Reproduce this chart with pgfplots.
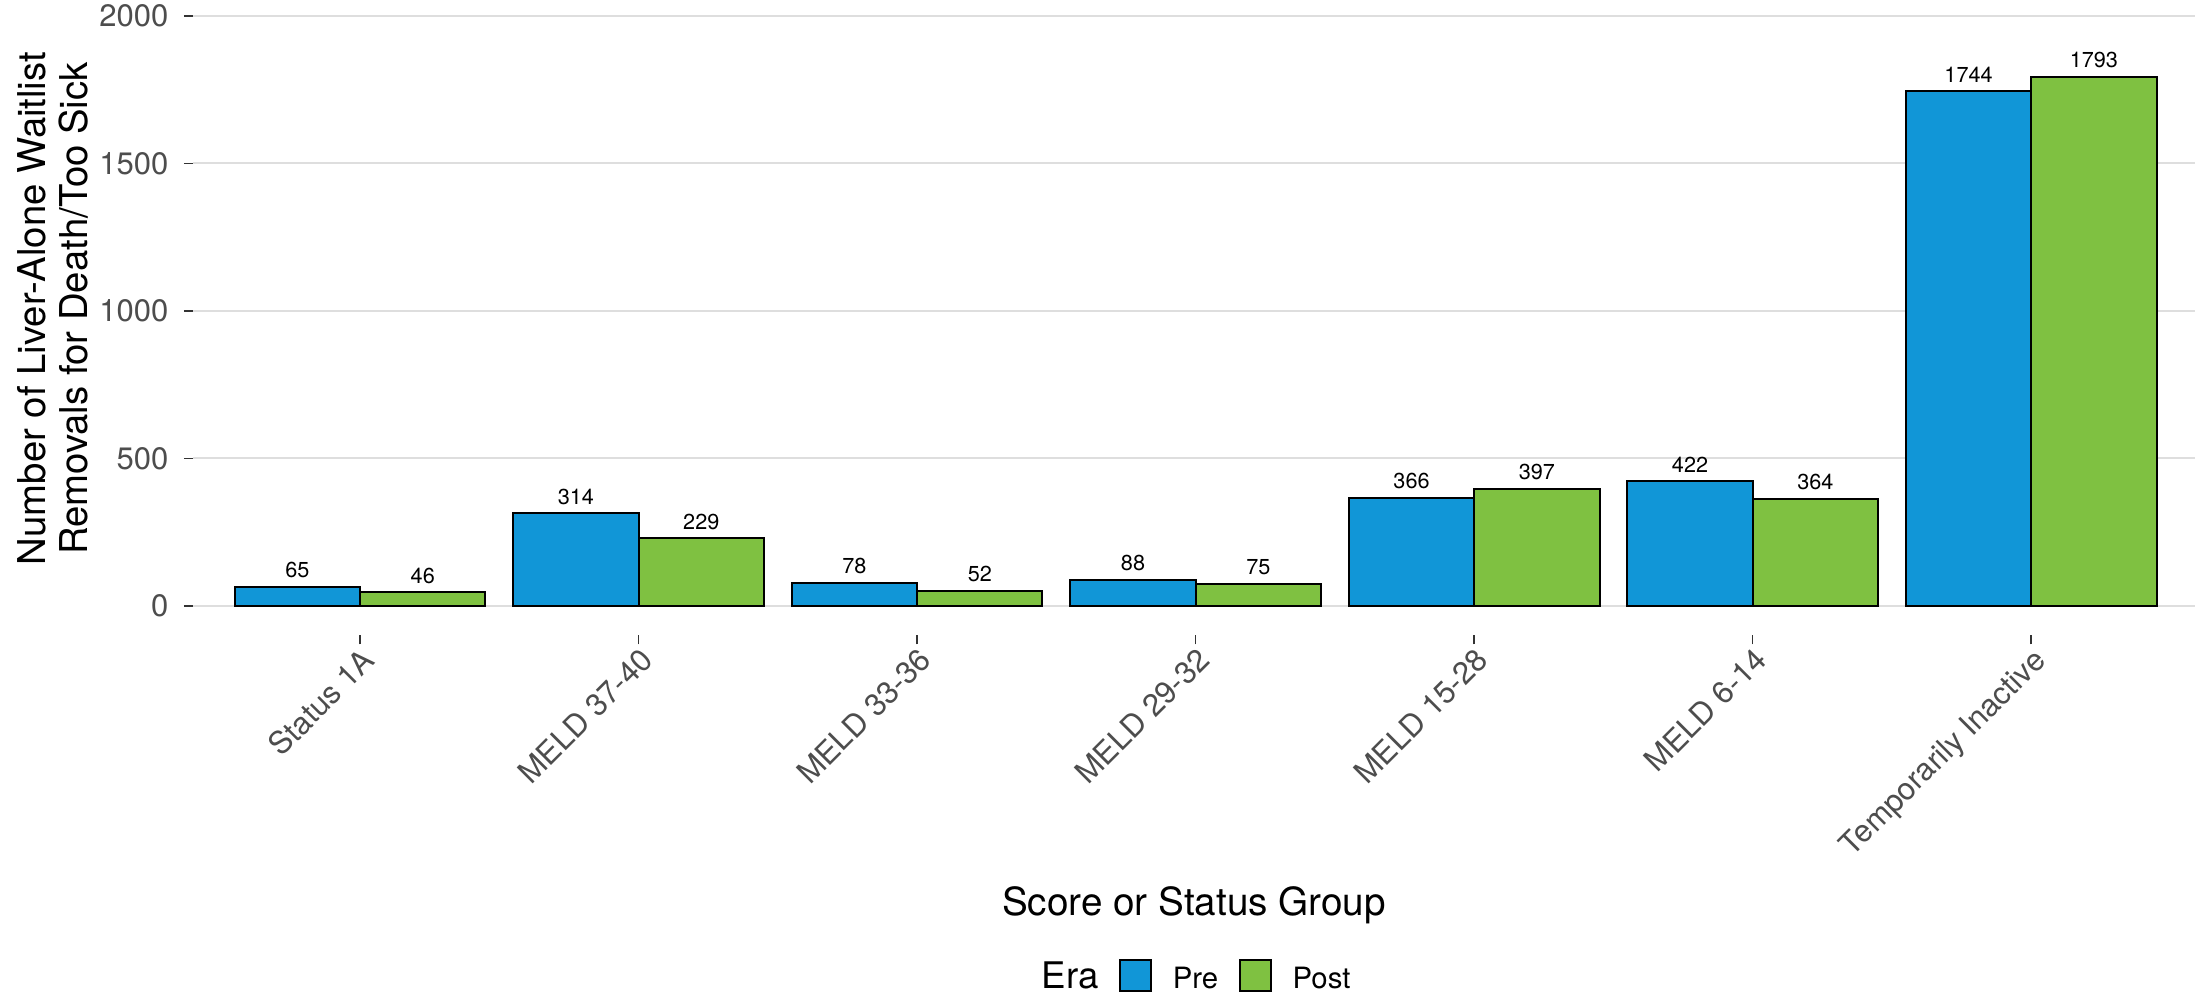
\documentclass[border=0pt]{standalone}
\usepackage{fontspec}
\setmainfont{TeX Gyre Heros}
\usepackage{pgfplots}
\usepackage{pgfplotstable}
\pgfplotsset{compat=1.18}
\definecolor{preblue}{RGB}{17,150,215}
\definecolor{postgreen}{RGB}{127,193,65}
\definecolor{gridgray}{RGB}{222,222,222}
\definecolor{ticklab}{RGB}{77,77,77}
\definecolor{tickcol}{RGB}{51,51,51}

\pgfplotstableread{
idx pre post
0 65 46
1 314 229
2 78 52
3 88 75
4 366 397
5 422 364
6 1744 1793
}\datatable

\begin{document}
\begin{tikzpicture}
\useasboundingbox (-57.9pt,-107.85pt) rectangle (600.6pt,190.65pt);
\begin{axis}[
  at={(0pt,0pt)}, anchor=south west,
  scale only axis, width=600.6pt, height=190.65pt,
  xmin=-0.6, xmax=6.588, ymin=-100, ymax=2054,
  axis line style={draw=none},
  ymajorgrids, grid style={gridgray, line width=0.6pt},
  ytick={0,500,1000,1500,2000},
  xtick={0,1,2,3,4,5,6},
  xticklabels={Status 1A, MELD 37-40, MELD 33-36, MELD 29-32, MELD 15-28, MELD 6-14, Temporarily Inactive},
  tick align=outside, major tick length=2.7pt,
  tick pos=left,
  tick style={tickcol, line width=0.45pt},
  ticklabel style={font=\fontsize{9.3}{11}\selectfont, text=ticklab},
  /pgf/number format/assume math mode=true,
  /pgf/number format/1000 sep={},
  yticklabel style={anchor=east, inner sep=0pt, xshift=-4.5pt},
  xticklabel style={inner sep=0pt, xshift=0pt, yshift=-0.3pt, rotate=45, anchor=north east},
  every axis x label/.style={at={(axis description cs:0.5,-0.44)}, anchor=base, font=\fontsize{11.6}{14}\selectfont},
  xlabel={Score or Status Group},
  every axis y label/.style={at={(axis description cs:-0.0699,0.5146)}, rotate=90, anchor=center, align=center, font=\fontsize{11.5}{12.6}\selectfont},
  ylabel={Number of Liver-Alone Waitlist\\Removals for Death/Too Sick},
  ybar, bar width=0.45,
  nodes near coords,
  every node near coord/.append style={font=\fontsize{6.5}{7}\selectfont, text=black, anchor=south, inner sep=0pt, yshift=2.4pt},
  legend columns=-1,
  legend style={draw=none, fill=none, inner sep=0pt, outer sep=0pt,
    at={(axis description cs:0.4136,-0.5630)}, anchor=south west,
    /tikz/column sep=6.2pt, cells={anchor=base west},
    nodes={inner sep=0pt, font=\fontsize{8.8}{10}\selectfont}},
  legend image code/.code={\draw[#1, draw=black, line width=0.6pt] (0pt,-0.8pt) rectangle (9.3pt,8.4pt);},
]
\addlegendimage{empty legend}
\addlegendentry{\fontsize{11}{13}\selectfont Era}
\addplot[fill=preblue, draw=black, line width=0.6pt, bar shift=-0.225] table[x=idx, y=pre] {\datatable};
\addlegendentry{Pre}
\addplot[fill=postgreen, draw=black, line width=0.6pt, bar shift=0.225] table[x=idx, y=post] {\datatable};
\addlegendentry{Post}
\end{axis}
\end{tikzpicture}
\end{document}
